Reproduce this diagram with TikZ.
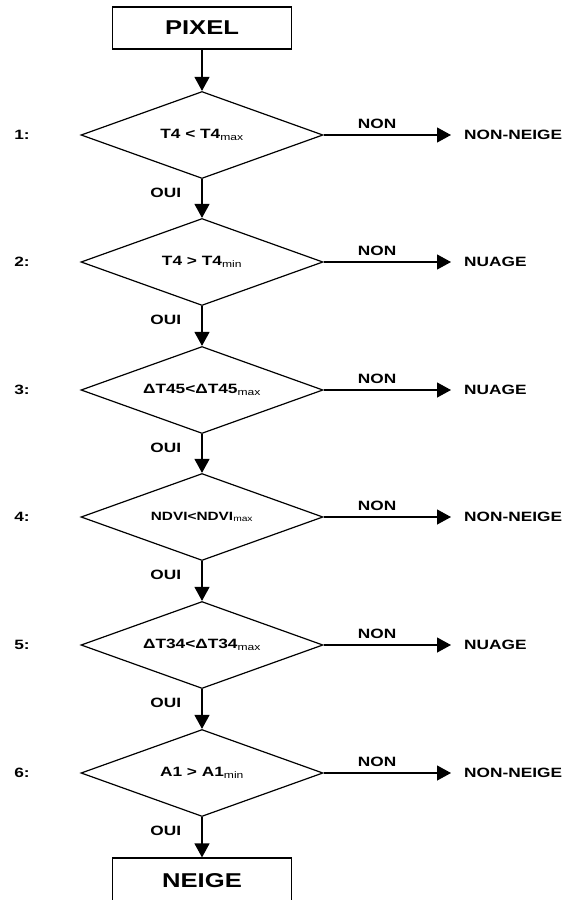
\documentclass[tikz,border=0pt]{standalone}
\usepackage{fontspec}
\setmainfont{Liberation Sans}[FakeStretch=1.28]
\usetikzlibrary{shapes.geometric,arrows.meta,positioning}
\newcommand{\low}[1]{\textsubscript{\mdseries #1}}

\tikzset{
	decision/.style={diamond,draw,line width=1.2pt,aspect=2.78,minimum width=242pt,minimum height=87pt,inner sep=0pt,font=\bfseries\fontsize{13.5}{15}\selectfont},
	endbox/.style={rectangle,draw,line width=1.2pt,minimum width=179pt,minimum height=42pt,font=\bfseries\fontsize{20}{22}\selectfont},
	flow/.style={line width=1.2pt,-{Triangle[length=14pt,width=15pt]}},
	txt/.style={font=\bfseries\fontsize{13.5}{16}\selectfont}
}

\begin{document}
\begin{tikzpicture}[x=1pt,y=-1pt]
\useasboundingbox (0,0) rectangle (578,900);
\clip (0,0) rectangle (578,900);
\node[endbox] (pixel) at (202,28) {PIXEL};
\foreach \cond/\res/\y [count=\i] in {
	T4 < T4\low{max}/NON-NEIGE/135,
	T4 > T4\low{min}/NUAGE/262,
	ΔT45<ΔT45\low{max}/NUAGE/390,
	{\fontsize{12}{14}\selectfont NDVI<NDVI\low{max}}/NON-NEIGE/517,
	ΔT34<ΔT34\low{max}/NUAGE/645,
	A1 > A1\low{min}/NON-NEIGE/773%
	}{
	\node[decision] (d\i) at (202,\y) {\cond};
	\node[txt] (n\i) at (22,\y) {\i:};
	\node[txt,anchor=west,inner xsep=13pt] (r\i) at (451,\y) {\res};
	\draw[flow] (d\i.east) -- node[txt,above=2pt,pos=.42] {NON} (r\i.west);
	}
\foreach \i [count=\j from 2] in {1,...,5}
	\draw[flow] (d\i.south) -- node[txt,left=17pt,pos=.35] {OUI} (d\j.north);
\node[endbox,minimum height=46pt] (neige) at (202,881) {NEIGE};
\draw[flow] (pixel) -- (d1);
\draw[flow] (d6.south) -- node[txt,left=17pt,pos=.35] {OUI} (neige);
\end{tikzpicture}
\end{document}
